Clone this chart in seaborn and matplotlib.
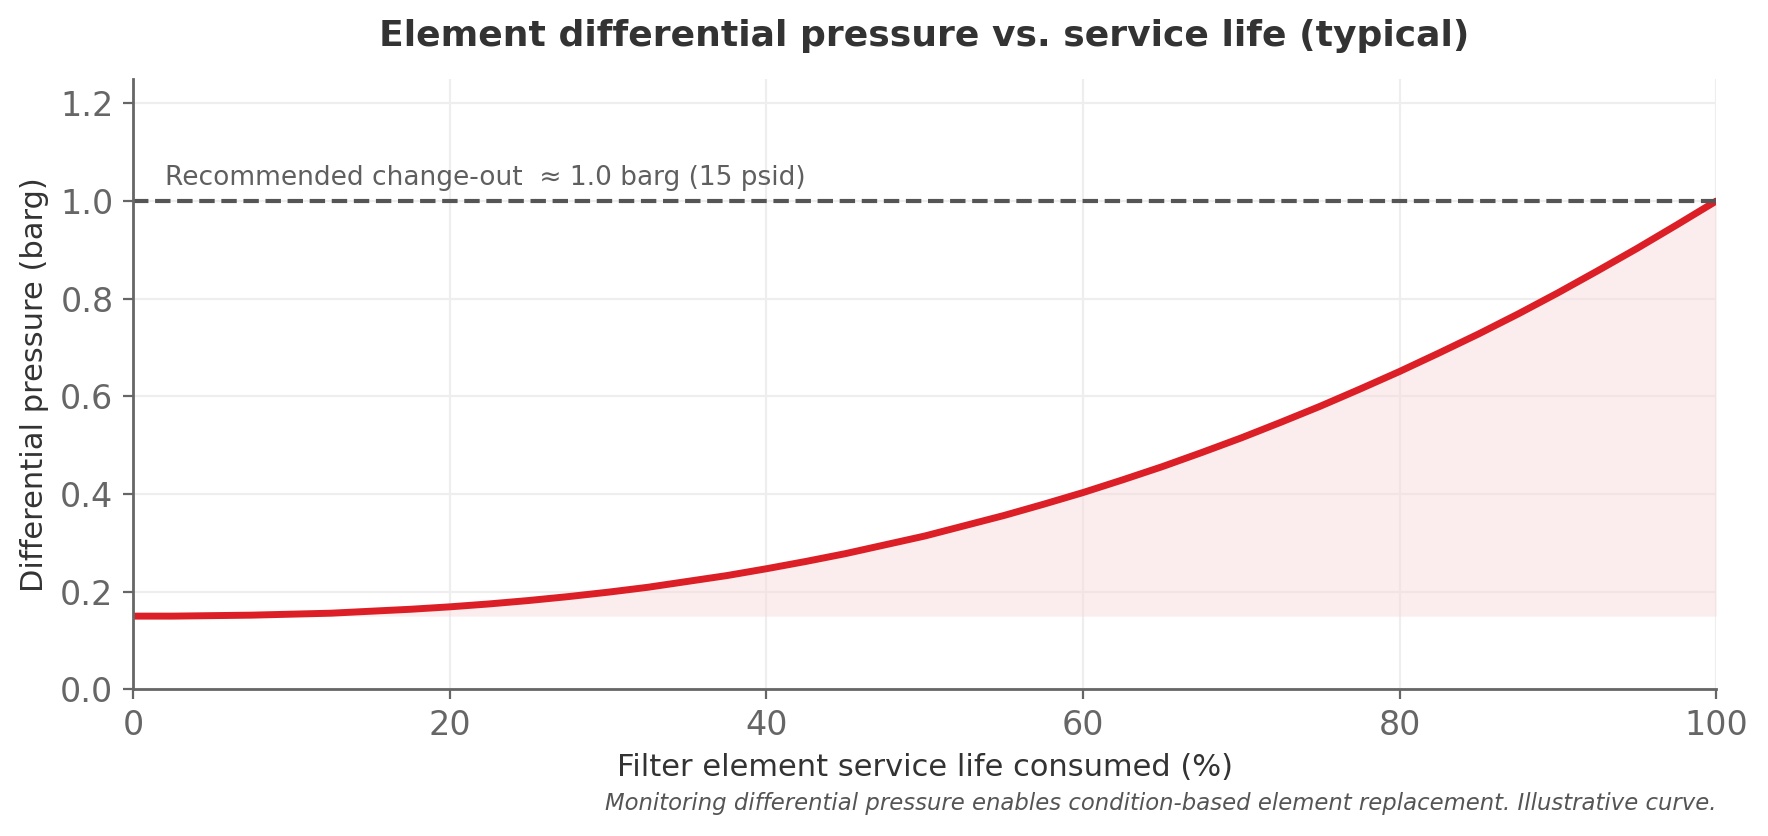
import pandas as pd
import matplotlib.pyplot as plt
import seaborn as sns

# values (every 2.5 % of life)
life_pct = [0, 2.5, 5, 7.5, 10, 12.5, 15, 17.5, 20, 22.5, 25, 27.5, 30, 32.5, 35, 37.5,
            40, 42.5, 45, 47.5, 50, 52.5, 55, 57.5, 60, 62.5, 65, 67.5, 70, 72.5, 75,
            77.5, 80, 82.5, 85, 87.5, 90, 92.5, 95, 97.5, 100]
dp_barg = [0.150, 0.150, 0.151, 0.152, 0.154, 0.156, 0.160, 0.164, 0.169, 0.175, 0.182,
           0.190, 0.199, 0.209, 0.221, 0.233, 0.247, 0.262, 0.278, 0.296, 0.314, 0.335,
           0.356, 0.379, 0.403, 0.429, 0.456, 0.485, 0.515, 0.547, 0.580, 0.615, 0.651,
           0.689, 0.728, 0.769, 0.812, 0.857, 0.903, 0.951, 1.000]
clean_dp = 0.15
changeout_dp = 1.0

df = pd.DataFrame({"life": life_pct, "dp": dp_barg})

sns.set_theme(style="whitegrid")
plt.rcParams["font.family"] = ["DejaVu Sans"]

fig, ax = plt.subplots(figsize=(8.84, 4.18), dpi=200)

ax.fill_between(df["life"], clean_dp, df["dp"], color="#f7d9db", alpha=0.45, linewidth=0)
sns.lineplot(data=df, x="life", y="dp", ax=ax, color="#dc1f26", linewidth=2.5)
ax.plot([0, 100], [changeout_dp, changeout_dp], ls="--", color="#555555", lw=1.5)
ax.text(2, 1.02, "Recommended change-out  \u2248 1.0 barg (15 psid)", fontsize=9.5,
        color="#5f5f5f", va="bottom")

ax.set_xlim(0, 100)
ax.set_ylim(0, 1.25)
ax.set_xticks([0, 20, 40, 60, 80, 100])
ax.set_yticks([0, 0.2, 0.4, 0.6, 0.8, 1.0, 1.2])
ax.set_yticklabels(["0.0", "0.2", "0.4", "0.6", "0.8", "1.0", "1.2"])
ax.tick_params(labelsize=12, colors="#666666", length=3.6, width=0.8, left=True, bottom=True)
ax.grid(color="#eeeeee", linewidth=0.8)
for s in ["top", "right"]:
    ax.spines[s].set_visible(False)
for s in ["left", "bottom"]:
    ax.spines[s].set_color("#666666")
    ax.spines[s].set_linewidth(1.0)

ax.set_xlabel("Filter element service life consumed (%)", fontsize=11, color="#333333")
ax.set_ylabel("Differential pressure (barg)", fontsize=11, color="#333333")
ax.set_title("Element differential pressure vs. service life (typical)", fontsize=13,
             fontweight="bold", color="#333333", pad=12)

fig.text(0.9707, 0.039, "Monitoring differential pressure enables condition-based element replacement. Illustrative curve.",
         fontsize=8.2, style="italic", color="#555555", ha="right", va="center")

fig.subplots_adjust(left=0.0753, right=0.9707, top=0.9055, bottom=0.1754)
fig.savefig("out.png", dpi=200)
